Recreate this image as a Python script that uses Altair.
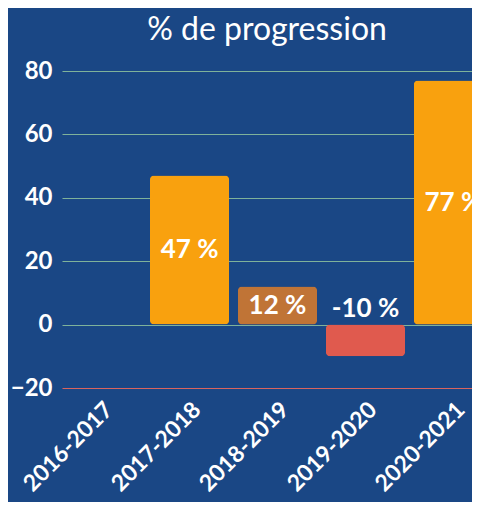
import altair as alt
import pandas as pd

periods = ["2016-2017", "2017-2018", "2018-2019", "2019-2020", "2020-2021"]
values = [None, 47, 12, -10, 77]
colors = ["#f9a10e", "#f9a10e", "#c07436", "#e05a4e", "#f9a10e"]

df = pd.DataFrame({"period": periods, "value": values, "color": colors})

FONT = "Lato"
BG = "#1a4785"

x_scale = alt.Scale(paddingInner=0.1, paddingOuter=0.0, range=[0, 431])

x_enc = alt.X("period:N", sort=periods, title=None, scale=x_scale,
              axis=alt.Axis(labelAngle=-45, labelFontSize=23, labelFontWeight="bold",
                            labelColor="white", labelFont=FONT, domain=False, ticks=False,
                            labelPadding=10, labelOffset=0))

bars = alt.Chart(df).mark_bar(cornerRadius=4).encode(
    x=x_enc,
    y=alt.Y("value:Q", title=None,
            scale=alt.Scale(domain=[-20, 80], nice=False),
            axis=alt.Axis(values=[-20, 0, 20, 40, 60, 80], labelFontSize=24,
                          labelFontWeight="bold", labelColor="white", labelFont=FONT,
                          domain=False, ticks=False, labelPadding=10,
                          gridColor=alt.ConditionalAxisColor(
                              condition={"test": "datum.value < 0", "value": "#d9645e"},
                              value="#7fb29a"),
                          gridWidth=1)),
    color=alt.Color("color:N", scale=None),
)

labels = alt.Chart(df).transform_filter("datum.value != null").transform_calculate(
    pos="abs(datum.value) / 2",
    txt="datum.value + ' %'",
).mark_text(color="white", fontSize=26, fontWeight="bold", font=FONT).encode(
    x=alt.X("period:N", sort=periods, scale=x_scale),
    y=alt.Y("pos:Q"),
    text="txt:N",
)

chart = alt.layer(bars, labels).properties(
    width=410, height=317,
    background=BG,
    autosize=alt.AutoSizeParams(type="none"),
    padding={"left": 54, "top": 63, "right": 0, "bottom": 114},
    title=alt.TitleParams("% de progression", color="white", fontSize=32,
                          fontWeight="normal", font=FONT, offset=12),
).configure_view(stroke=None)

chart.save("out.html", embed_options={"renderer": "svg", "actions": False})
